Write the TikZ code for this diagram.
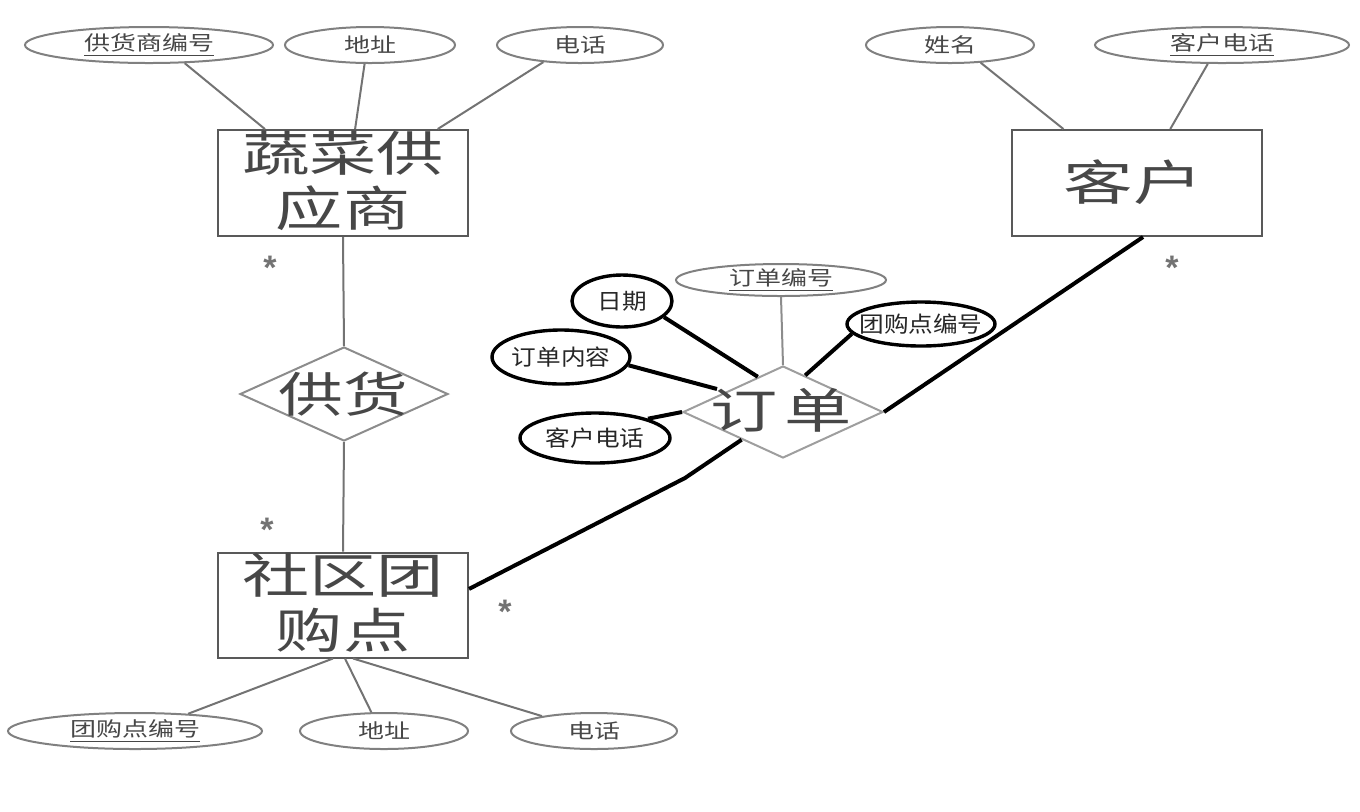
\documentclass[tikz,border=0pt]{standalone}
\usepackage{fontspec}
\setmainfont{Noto Sans CJK SC}
\newfontfamily\astfont{Liberation Sans}
\usetikzlibrary{shapes.geometric,calc}
\tikzset{
  gell/.style={ellipse, draw=black!50, line width=1pt, inner sep=0pt},
  bell/.style={ellipse, draw=black, line width=1.7pt, inner sep=0pt},
  entbox/.style={rectangle, draw=black!65, line width=1pt, minimum width=125pt, minimum height=53pt, inner sep=0pt},
  relbox/.style={diamond, draw=black!45, line width=1pt, inner sep=0pt},
  bigtext/.style={font=\fontsize{24}{27.5}\selectfont, text=black!72, align=center, inner sep=0pt},
  gtext/.style={font=\fontsize{10}{12}\selectfont, text=black!72, inner sep=0pt},
  btext/.style={font=\fontsize{11}{13}\selectfont, text=black!85, inner sep=0pt},
  glink/.style={draw=black!55, line width=1pt},
  blink/.style={draw=black, line width=2pt},
  startxt/.style={font=\astfont\bfseries\fontsize{17}{18}\selectfont, text=black!55, inner sep=0pt}
}
\newcommand{\gs}[1]{\scalebox{1.3}[1]{#1}}
\newcommand{\bs}[1]{\scalebox{1.12}[1]{#1}}
\newcommand{\es}[1]{\scalebox{1.4}[1]{#1}}
\begin{document}
\begin{tikzpicture}[x=0.5pt,y=-0.5pt]
\useasboundingbox (0,0) rectangle (1360,811);

% entities
\node[entbox] (sup) at (343,183) {};
\node[bigtext] (suptxt) at (343,181) {\es{蔬菜供}\\\es{应商}};
\node[entbox] (cus) at (1137,183) {};
\node[bigtext] (custxt) at (1133,182) {\scalebox{1.45}[1]{客户}};
\node[entbox, minimum height=52.5pt] (com) at (343,605) {};
\node[bigtext] (comtxt) at (343,603) {\es{社区团}\\\es{购点}};

% relationships
\node[relbox, minimum width=104pt, minimum height=47pt] (r1) at (344,394) {};
\node[bigtext] (r1txt) at (343,394) {\scalebox{1.35}[1]{供货}};
\node[relbox, draw=black!38, minimum width=100pt, minimum height=46pt] (r2) at (783,412) {};
\node[bigtext] (r2txt) at (781,410) {\es{订\hspace{2.5pt}单}};

% supplier attributes
\node[gell, minimum width=124pt, minimum height=18pt] (e1) at (149,45) {};
\node[gtext] (e1t) at (e1) {\gs{\underline{供货商编号}}};
\node[gell, minimum width=85pt, minimum height=18pt] (e2) at (370,45) {};
\node[gtext] (e2t) at (e2) {\gs{地址}};
\node[gell, minimum width=83pt, minimum height=18pt] (e3) at (580,45) {};
\node[gtext] (e3t) at (e3) {\gs{电话}};

% customer attributes
\node[gell, minimum width=84pt, minimum height=18pt] (e4) at (950,45) {};
\node[gtext] (e4t) at (e4) {\gs{姓名}};
\node[gell, minimum width=127pt, minimum height=18pt] (e5) at (1222,45) {};
\node[gtext] (e5t) at (e5) {\gs{\underline{客户电话}}};

% community attributes
\node[gell, minimum width=127pt, minimum height=18pt] (b1) at (135,731) {};
\node[gtext] (b1t) at (b1) {\gs{\underline{团购点编号}}};
\node[gell, minimum width=84pt, minimum height=18pt] (b2) at (384,731) {};
\node[gtext] (b2t) at (b2) {\gs{地址}};
\node[gell, minimum width=83pt, minimum height=18pt] (b3) at (594,731) {};
\node[gtext] (b3t) at (b3) {\gs{电话}};

% order attributes
\node[gell, minimum width=105pt, minimum height=16pt] (o1) at (781,280) {};
\node[gtext] (o1t) at (o1) {\gs{\underline{订单编号}}};
\node[bell, minimum width=50pt, minimum height=26pt] (o2) at (622,301) {};
\node[btext] (o2t) at (o2) {\bs{日期}};
\node[bell, minimum width=69pt, minimum height=27pt] (o3) at (561,357) {};
\node[btext] (o3t) at (o3) {\bs{订单内容}};
\node[bell, minimum width=75pt, minimum height=25pt] (o4) at (595,438) {};
\node[btext] (o4t) at (o4) {\bs{客户电话}};
\node[bell, minimum width=74pt, minimum height=22pt] (o5) at (921,324) {};
\node[btext] (o5t) at (o5) {\bs{团购点编号}};

\coordinate (c3) at (717,389);
\coordinate (kink) at (685,478);

% gray connectors
\draw[glink] (e1.-27) -- ($(sup.north west)!0.19!(sup.north east)$);
\draw[glink] (e2.-106) -- ($(sup.north west)!0.548!(sup.north east)$);
\draw[glink] (e3.-155) -- ($(sup.north west)!0.876!(sup.north east)$);
\draw[glink] (e4.-30) -- ($(cus.north west)!0.208!(cus.north east)$);
\draw[glink] (e5.-127) -- ($(cus.north west)!0.632!(cus.north east)$);
\draw[glink] (b1.18) -- ($(com.south west)!0.46!(com.south east)$);
\draw[glink] (b2.124) -- ($(com.south west)!0.508!(com.south east)$);
\draw[glink] (b3.164) -- ($(com.south west)!0.54!(com.south east)$);
\draw[glink] (sup.south) -- (r1.north);
\draw[glink] (r1.south) -- (com.north);
\draw[glink, draw=black!45] (o1.south) -- (r2.north);

% black connectors
\draw[blink] (o2.-21) -- ($(r2.west)!0.75!(r2.north)$);
\draw[blink] (o3.-7) -- (c3);
\draw[blink] (o4.20) -- (r2.west);
\draw[blink] (o5.-172) -- ($(r2.north)!0.22!(r2.east)$);
\draw[blink] ($(cus.south west)!0.524!(cus.south east)$) -- (r2.east);
\draw[blink] ($(com.north east)!0.35!(com.south east)$) -- (kink) -- ($(r2.west)!0.59!(r2.south)$);

% multiplicities
\node[startxt] (s1) at (270,268) {*};
\node[startxt] (s2) at (267,530) {*};
\node[startxt] (s3) at (505,612) {*};
\node[startxt] (s4) at (1172,268) {*};
\end{tikzpicture}
\end{document}
